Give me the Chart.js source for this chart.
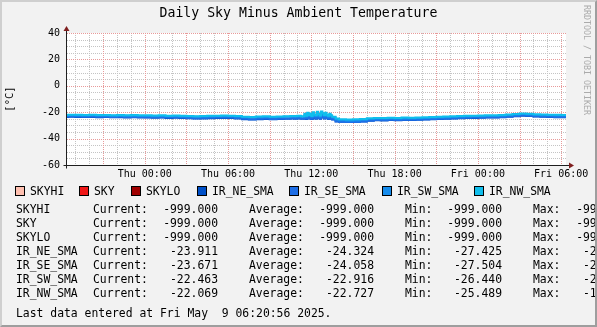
<!DOCTYPE html>
<html>
<head>
<meta charset="utf-8">
<script src="https://cdn.jsdelivr.net/npm/chart.js@4.4.1/dist/chart.umd.min.js"></script>
<style>
  html, body { margin: 0; padding: 0; }
  body {
    position: relative; width: 597px; height: 327px; overflow: hidden;
    background: #F2F2F2; color: #000;
    font-family: 'DejaVu Sans Mono', monospace;
  }
  canvas { position: absolute; left: 0; top: 0; }
  .t { position: absolute; white-space: pre; font-size: 11.4px; line-height: 14px; }
  .r { text-align: right; }
  #title { position: absolute; left: 0; top: 5px; width: 597px; text-align: center; font-size: 13.2px; line-height: 16px; }
  #mark {
    position: absolute; left: 582px; top: 5px; width: 10px; line-height: 10px;
    writing-mode: vertical-rl; font-size: 8.3px; color: #ABABAB; white-space: pre;
  }
  .box { position: absolute; width: 8px; height: 8px; border: 1px solid #000; }
  #frame {
    position: absolute; left: 0; top: 0; width: 597px; height: 327px; box-sizing: border-box;
    border-style: solid; border-width: 2px; border-color: #CFCFCF #9E9E9E #9E9E9E #CFCFCF;
  }
</style>
</head>
<body>
<canvas id="chart" width="597" height="327"></canvas>
<div id="title">Daily Sky Minus Ambient Temperature</div>
<div id="mark">RRDTOOL / TOBI OETIKER</div>
<div id="legend"></div>
<div id="frame"></div>
<script>
'use strict';

// hours relative to Thu 00:00
const TIMES = [
  -6.0, -5.5, -5.0, -4.5, -4.0, -3.5, -3.0, -2.5, -2.0, -1.5, -1.0, -0.5,
  0.0, 0.5, 1.0, 1.5, 2.0, 2.5, 3.0, 3.5, 4.0, 4.5, 5.0, 5.5,
  6.0, 6.5, 7.0, 7.5, 8.0, 8.5, 9.0, 9.5, 10.0, 10.5,
  10.75, 11.0, 11.25,
  11.5, 11.6, 11.7, 11.8, 11.9, 12.0, 12.1, 12.2, 12.3, 12.4,
  12.5, 12.6, 12.7, 12.8, 12.9, 13.0, 13.1, 13.2, 13.3, 13.4,
  13.5, 13.75, 14.0,
  14.5, 15.0, 15.5, 16.0, 16.5, 17.0, 17.5, 18.0, 18.5, 19.0, 19.5, 20.0, 20.5,
  21.0, 21.5, 22.0, 22.5, 23.0, 23.5, 24.0, 24.5, 25.0, 25.5, 26.0, 26.5,
  27.0, 27.5, 28.0, 28.5, 29.0, 29.5, 30.0, 30.35
];

const IR_NE_SMA = [
  -23.6, -23.5, -23.6, -23.7, -23.6, -23.8, -23.7, -23.9, -23.8, -24.0, -23.9, -24.0,
  -24.1, -24.2, -24.1, -24.3, -24.2, -24.4, -24.6, -24.8, -24.7, -24.5, -24.4, -24.3,
  -24.4, -24.7, -25.3, -25.6, -25.3, -25.1, -25.4, -25.2, -25.0, -24.8,
  -24.9, -24.7, -25.0,
  -24.3, -25.1, -23.9, -24.8, -24.2, -25.2, -23.6, -24.5, -24.9, -23.4,
  -24.2, -25.0, -23.0, -24.0, -24.8, -23.7, -24.6, -25.2, -24.1, -24.9,
  -25.6, -27.0, -27.2,
  -27.4, -27.3, -27.0, -26.5, -26.1, -26.2, -26.0, -26.1, -25.9, -26.0, -25.8, -25.6, -25.4,
  -25.2, -25.0, -24.8, -24.6, -24.4, -24.3, -24.2, -24.1, -24.0, -23.8, -23.5, -23.1,
  -22.6, -22.9, -23.3, -23.5, -23.7, -23.8, -23.9, -23.91
];

const IR_SE_SMA = [
  -23.3, -23.2, -23.3, -23.4, -23.3, -23.5, -23.4, -23.6, -23.5, -23.7, -23.6, -23.7,
  -23.8, -23.9, -23.8, -24.0, -23.9, -24.1, -24.3, -24.5, -24.4, -24.2, -24.1, -24.0,
  -24.1, -24.4, -25.0, -25.3, -25.0, -24.8, -25.1, -24.9, -24.7, -24.5,
  -24.6, -24.4, -24.7,
  -24.0, -24.8, -23.5, -24.5, -23.9, -24.9, -23.2, -24.1, -24.6, -23.0,
  -23.9, -24.7, -22.6, -23.6, -24.5, -23.4, -24.3, -24.9, -23.8, -24.6,
  -25.4, -26.9, -27.3,
  -27.5, -27.4, -27.1, -26.3, -25.9, -26.0, -25.8, -25.9, -25.7, -25.8, -25.6, -25.4, -25.2,
  -25.0, -24.8, -24.6, -24.4, -24.2, -24.1, -24.0, -23.9, -23.8, -23.6, -23.3, -22.9,
  -22.4, -22.7, -23.1, -23.3, -23.5, -23.6, -23.7, -23.67
];

const IR_SW_SMA = [
  -22.5, -22.4, -22.5, -22.6, -22.4, -22.6, -22.7, -22.6, -22.8, -22.7, -22.9, -22.8,
  -22.9, -23.0, -22.8, -23.1, -23.0, -23.2, -23.3, -23.5, -23.4, -23.2, -23.1, -23.0,
  -23.1, -23.4, -23.9, -24.1, -23.8, -23.6, -23.9, -23.7, -23.5, -23.3,
  -23.4, -23.3, -23.5,
  -22.3, -23.2, -21.8, -22.9, -22.4, -23.4, -21.5, -22.6, -23.1, -21.2,
  -22.5, -23.3, -20.8, -22.0, -23.0, -21.9, -22.8, -23.4, -22.3, -23.1,
  -24.1, -25.6, -26.1,
  -26.4, -26.3, -26.0, -25.2, -24.9, -25.0, -24.8, -24.9, -24.7, -24.8, -24.6, -24.4, -24.2,
  -24.0, -23.8, -23.6, -23.4, -23.2, -23.1, -23.0, -22.9, -22.8, -22.6, -22.3, -21.9,
  -21.4, -21.7, -22.1, -22.3, -22.4, -22.5, -22.5, -22.46
];

const IR_NW_SMA = [
  -22.0, -22.0, -21.9, -22.1, -22.0, -22.2, -22.1, -22.3, -22.2, -22.4, -22.2, -22.3,
  -22.4, -22.5, -22.4, -22.6, -22.5, -22.7, -22.8, -23.0, -22.9, -22.7, -22.6, -22.5,
  -22.6, -22.8, -23.4, -23.6, -23.3, -23.1, -23.4, -23.2, -23.0, -22.8,
  -22.9, -22.7, -23.0,
  -21.2, -22.6, -20.4, -22.1, -21.0, -22.8, -20.0, -21.7, -22.4, -19.6,
  -21.3, -22.5, -19.4, -20.8, -22.2, -20.5, -21.9, -22.7, -21.1, -22.4,
  -23.4, -24.8, -25.3,
  -25.5, -25.4, -25.2, -24.6, -24.3, -24.4, -24.2, -24.3, -24.1, -24.2, -24.0, -23.8, -23.6,
  -23.4, -23.2, -23.1, -22.9, -22.7, -22.6, -22.5, -22.4, -22.3, -22.1, -21.8, -21.4,
  -20.9, -21.2, -21.6, -21.8, -21.9, -22.0, -22.1, -22.07
];

// the sky sensor series only hold the -999 "no data" value
const SKY_TIMES = [-6.0, 30.35];
const SKYHI = [-999, -999];
const SKY = [-999, -999];
const SKYLO = [-999, -999];

const X_LABEL_HOURS = [0, 6, 12, 18, 24, 30];
const X_LABEL_TEXT = ['Thu 00:00', 'Thu 06:00', 'Thu 12:00', 'Thu 18:00', 'Fri 00:00', 'Fri 06:00'];
const Y_LABEL_VALUES = [40, 20, 0, -20, -40, -60];

const NAMES = ['SKYHI', 'SKY', 'SKYLO', 'IR_NE_SMA', 'IR_SE_SMA', 'IR_SW_SMA', 'IR_NW_SMA'];
const CURRENT = [-999, -999, -999, -23.911, -23.671, -22.463, -22.069];
const AVERAGE = [-999, -999, -999, -24.324, -24.058, -22.916, -22.727];
const MINIMUM = [-999, -999, -999, -27.425, -27.504, -26.440, -25.489];
const MAXIMUM = [-999, -999, -999, -22.574, -22.381, -20.793, -19.388];
const LAST_UPDATE = 'Last data entered at Fri May  9 06:20:56 2025.';

const COLORS = ['#FFC0B0', '#F01818', '#A00000', '#0050C8', '#1E6EE6', '#168CEC', '#10BEEC'];

const X_MIN = -5.6, X_MAX = 30.35;
const GRID = '#C4C4C4';
const MGRID = '#E89A9A';
const AXIS = '#1F1F1F';
const ARROW = '#7F1F1F';

Chart.defaults.font.family = "'DejaVu Sans Mono', monospace";

function series(name, xs, ys, order) {
  const color = COLORS[NAMES.indexOf(name)];
  return {
    label: name,
    data: xs.map((x, i) => ({ x: x, y: ys[i] })),
    borderColor: color,
    backgroundColor: color,
    order: order
  };
}

// dotted rrdtool grid from the scales' own ticks: minor grey, major red
function drawGrid(chart, major) {
  const a = chart.chartArea, ctx = chart.ctx;
  const sx = chart.scales.x, sy = chart.scales.y;
  const top = Math.round(a.top), bottom = Math.round(a.bottom);
  const left = Math.round(a.left), right = Math.round(a.right);
  ctx.save();
  ctx.fillStyle = major ? MGRID : GRID;
  sx.ticks.forEach(function (t) {
    if ((t.value % 3 === 0) !== major) return;
    const px = Math.round(sx.getPixelForValue(t.value));
    for (let py = top; py < bottom; py += 2) ctx.fillRect(px, py, 1, 1);
  });
  sy.ticks.forEach(function (t) {
    if ((t.value % 20 === 0) !== major) return;
    const py = Math.round(sy.getPixelForValue(t.value));
    for (let px = left; px < right; px += 2) ctx.fillRect(px, py, 1, 1);
  });
  ctx.restore();
}

const rrdFrame = {
  id: 'rrdFrame',
  beforeDatasetsDraw(chart) {
    const a = chart.chartArea, ctx = chart.ctx;
    ctx.save();
    ctx.fillStyle = '#FFFFFF';
    ctx.fillRect(a.left, a.top, a.right - a.left, a.bottom - a.top);
    ctx.restore();
    drawGrid(chart, false);
    drawGrid(chart, true);
  },
  afterDraw(chart) {
    const a = chart.chartArea, ctx = chart.ctx;
    const bx = Math.round(a.left) - 0.5, by = Math.round(a.bottom) + 0.5;
    ctx.save();
    ctx.strokeStyle = AXIS;
    ctx.lineWidth = 1;
    ctx.beginPath();
    ctx.moveTo(bx - 3, by); ctx.lineTo(a.right + 4, by);
    ctx.moveTo(bx, by + 3); ctx.lineTo(bx, a.top - 3);
    ctx.stroke();
    ctx.fillStyle = ARROW;
    ctx.beginPath();
    ctx.moveTo(a.right + 3, by - 3); ctx.lineTo(a.right + 8, by); ctx.lineTo(a.right + 3, by + 3);
    ctx.closePath(); ctx.fill();
    ctx.beginPath();
    ctx.moveTo(bx - 3, a.top - 2); ctx.lineTo(bx, a.top - 7); ctx.lineTo(bx + 3, a.top - 2);
    ctx.closePath(); ctx.fill();
    ctx.restore();
  }
};

new Chart(document.getElementById('chart'), {
  type: 'line',
  data: {
    datasets: [
      series('SKYHI', SKY_TIMES, SKYHI, 7),
      series('SKY', SKY_TIMES, SKY, 6),
      series('SKYLO', SKY_TIMES, SKYLO, 5),
      series('IR_NE_SMA', TIMES, IR_NE_SMA, 4),
      series('IR_SE_SMA', TIMES, IR_SE_SMA, 3),
      series('IR_SW_SMA', TIMES, IR_SW_SMA, 2),
      series('IR_NW_SMA', TIMES, IR_NW_SMA, 1)
    ]
  },
  options: {
    responsive: false,
    animation: false,
    devicePixelRatio: 1,
    layout: { padding: { left: 0, right: 31, top: 33, bottom: 142 } },
    elements: {
      point: { radius: 0 },
      line: { borderWidth: 2, stepped: true, tension: 0, fill: false }
    },
    plugins: { legend: { display: false }, tooltip: { enabled: false } },
    scales: {
      x: {
        type: 'linear', min: X_MIN, max: X_MAX,
        afterFit: function (s) { s.height = 20; },
        grid: { display: false, drawTicks: false },
        border: { display: false },
        ticks: {
          stepSize: 1, includeBounds: false, autoSkip: false,
          maxRotation: 0, minRotation: 0, padding: 3,
          color: '#000', font: { size: 10 },
          callback: function (v) {
            const i = X_LABEL_HOURS.indexOf(v);
            return i < 0 ? '' : X_LABEL_TEXT[i];
          }
        }
      },
      y: {
        min: -60, max: 40,
        afterFit: function (s) { s.width = 67; },
        grid: { display: false, drawTicks: false },
        border: { display: false },
        title: { display: true, text: '[°C]', color: '#000', font: { size: 10.5 }, padding: { top: 4, bottom: 0 } },
        ticks: {
          stepSize: 5, autoSkip: false, padding: 7, color: '#000', font: { size: 10 },
          callback: v => Y_LABEL_VALUES.indexOf(v) < 0 ? '' : String(v)
        }
      }
    }
  },
  plugins: [rrdFrame]
});

// legend line and the statistics block below the graph
const LEGEND_X = [15, 79, 131, 197, 289, 382, 474];
const legend = document.getElementById('legend');

function text(str, left, top, width) {
  const d = document.createElement('div');
  d.className = width ? 't r' : 't';
  d.textContent = str;
  d.style.left = left + 'px';
  d.style.top = top + 'px';
  if (width) d.style.width = width + 'px';
  legend.appendChild(d);
}

NAMES.forEach(function (name, i) {
  const b = document.createElement('div');
  b.className = 'box';
  b.style.left = LEGEND_X[i] + 'px';
  b.style.top = '186px';
  b.style.background = COLORS[i];
  legend.appendChild(b);
  text(name, LEGEND_X[i] + 15, 184);

  const top = 202 + i * 14;
  text(name, 16, top);
  text('Current:', 93, top);
  text(CURRENT[i].toFixed(3), 140, top, 78);
  text('Average:', 249, top);
  text(AVERAGE[i].toFixed(3), 296, top, 78);
  text('Min:', 405, top);
  text(MINIMUM[i].toFixed(3), 424, top, 78);
  text('Max:', 533, top);
  text(MAXIMUM[i].toFixed(3), 553, top, 78);
});
text(LAST_UPDATE, 16, 306);
</script>
</body>
</html>
